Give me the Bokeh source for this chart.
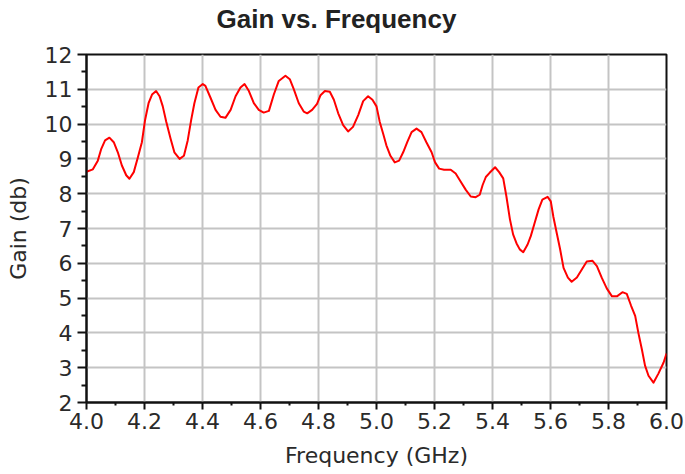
from bokeh.plotting import figure
from bokeh.models import Range1d, FixedTicker, Title
from bokeh.embed import file_html
from bokeh.resources import INLINE

# ---- data ----
freq_ghz = [4.000, 4.022, 4.039, 4.051, 4.064, 4.079, 4.094, 4.108, 4.122, 4.137,
            4.148, 4.163, 4.177, 4.191, 4.202, 4.214, 4.226, 4.240, 4.252, 4.263,
            4.275, 4.290, 4.303, 4.321, 4.336, 4.349, 4.361, 4.372, 4.386, 4.401,
            4.410, 4.428, 4.445, 4.462, 4.479, 4.497, 4.514, 4.531, 4.545, 4.560,
            4.577, 4.594, 4.611, 4.629, 4.646, 4.663, 4.686, 4.701, 4.715, 4.732,
            4.749, 4.761, 4.778, 4.795, 4.807, 4.822, 4.839, 4.853, 4.868, 4.885,
            4.902, 4.919, 4.937, 4.954, 4.971, 4.986, 5.000, 5.011, 5.023, 5.034,
            5.048, 5.063, 5.078, 5.092, 5.106, 5.121, 5.138, 5.155, 5.172, 5.190,
            5.202, 5.216, 5.233, 5.256, 5.273, 5.290, 5.308, 5.325, 5.342, 5.356,
            5.366, 5.377, 5.390, 5.409, 5.423, 5.437, 5.448, 5.460, 5.471, 5.483,
            5.494, 5.506, 5.521, 5.532, 5.544, 5.559, 5.572, 5.590, 5.601, 5.610,
            5.622, 5.633, 5.645, 5.660, 5.673, 5.691, 5.708, 5.725, 5.745, 5.760,
            5.777, 5.794, 5.812, 5.829, 5.848, 5.863, 5.878, 5.892, 5.903, 5.915,
            5.926, 5.938, 5.955, 5.972, 5.990, 6.000]
gain_db = [8.63, 8.70, 8.95, 9.29, 9.53, 9.61, 9.48, 9.19, 8.81, 8.53,
           8.43, 8.62, 9.04, 9.48, 10.12, 10.60, 10.85, 10.95, 10.80, 10.51,
           10.07, 9.58, 9.19, 9.00, 9.09, 9.53, 10.12, 10.60, 11.05, 11.15,
           11.10, 10.75, 10.41, 10.21, 10.18, 10.41, 10.80, 11.05, 11.15, 10.95,
           10.60, 10.41, 10.33, 10.38, 10.85, 11.24, 11.39, 11.29, 11.00, 10.60,
           10.36, 10.31, 10.41, 10.58, 10.83, 10.95, 10.93, 10.70, 10.31, 9.97,
           9.79, 9.92, 10.26, 10.66, 10.80, 10.70, 10.51, 10.07, 9.72, 9.39,
           9.09, 8.90, 8.95, 9.19, 9.48, 9.77, 9.87, 9.77, 9.48, 9.19,
           8.90, 8.72, 8.69, 8.69, 8.58, 8.35, 8.11, 7.92, 7.90, 7.97,
           8.25, 8.48, 8.60, 8.76, 8.62, 8.44, 7.92, 7.27, 6.83, 6.57,
           6.40, 6.32, 6.54, 6.78, 7.12, 7.55, 7.83, 7.91, 7.78, 7.33,
           6.85, 6.41, 5.87, 5.59, 5.47, 5.59, 5.82, 6.05, 6.07, 5.92,
           5.58, 5.28, 5.05, 5.05, 5.17, 5.12, 4.78, 4.49, 4.00, 3.53,
           3.06, 2.77, 2.57, 2.83, 3.15, 3.41]

x_ticks = [4.0, 4.2, 4.4, 4.6, 4.8, 5.0, 5.2, 5.4, 5.6, 5.8, 6.0]
x_tick_labels = ["4.0", "4.2", "4.4", "4.6", "4.8", "5.0", "5.2", "5.4", "5.6", "5.8", "6.0"]
x_minor = [4.1, 4.3, 4.5, 4.7, 4.9, 5.1, 5.3, 5.5, 5.7, 5.9]
y_ticks = [2, 3, 4, 5, 6, 7, 8, 9, 10, 11, 12]
y_tick_labels = ["2", "3", "4", "5", "6", "7", "8", "9", "10", "11", "12"]
y_minor = [2.5, 3.5, 4.5, 5.5, 6.5, 7.5, 8.5, 9.5, 10.5, 11.5]

title_text = "Gain vs. Frequency"
x_label = "Frequency (GHz)"
y_label = "Gain (db)"

FONT = "DejaVu Sans"
TITLE_FONT = "Liberation Sans"

p = figure(width=685, height=474, output_backend="svg", toolbar_location=None,
           x_range=Range1d(4.0, 6.0), y_range=Range1d(2, 12),
           min_border_left=86, min_border_right=19, min_border_top=54, min_border_bottom=72,
           background_fill_color="white", border_fill_color="white",
           outline_line_color="#111111", outline_line_width=2)

# chart title (outermost) plus an empty spacer title between it and the frame
p.title = Title(text=title_text, align="left", offset=130, vertical_align="bottom",
                text_font=TITLE_FONT, text_font_size="26px", text_font_style="bold",
                text_color="#222222", standoff=0)
p.add_layout(Title(text=" ", text_font_size="2px", standoff=17), "above")

p.line(freq_ghz, gain_db, line_color="#ff0000", line_width=2, line_join="round")

xa = p.xaxis[0]
xa.ticker = FixedTicker(ticks=x_ticks, minor_ticks=x_minor)
xa.major_label_overrides = {t: l for t, l in zip(x_ticks, x_tick_labels)}
ya = p.yaxis[0]
ya.ticker = FixedTicker(ticks=y_ticks, minor_ticks=y_minor)
ya.major_label_overrides = {t: l for t, l in zip(y_ticks, y_tick_labels)}

for ax in (xa, ya):
    ax.axis_line_color = "#111111"
    ax.axis_line_width = 2
    ax.major_tick_line_color = "#111111"
    ax.major_tick_line_width = 2
    ax.minor_tick_line_color = "#111111"
    ax.minor_tick_line_width = 2
    ax.major_tick_in = 0
    ax.minor_tick_in = 0
    ax.major_label_text_font = FONT
    ax.major_label_text_font_size = "22px"
    ax.major_label_text_color = "#2a2a2a"
    ax.axis_label_text_font = FONT
    ax.axis_label_text_font_size = "22px"
    ax.axis_label_text_font_style = "normal"
    ax.axis_label_text_color = "#2a2a2a"

xa.axis_label = x_label
xa.major_tick_out = 7
xa.minor_tick_out = 3
xa.major_label_standoff = 3
xa.axis_label_standoff = 11

ya.axis_label = y_label
ya.major_tick_out = 9
ya.minor_tick_out = 5
ya.major_label_standoff = 5
ya.axis_label_standoff = 11
ya.major_label_orientation = "horizontal"

p.xgrid.ticker = FixedTicker(ticks=x_ticks)
p.ygrid.ticker = FixedTicker(ticks=y_ticks)
for g in (p.xgrid[0], p.ygrid[0]):
    g.grid_line_color = "#c4c4c4"
    g.grid_line_width = 2

open("out.html", "w").write(file_html(p, INLINE))
